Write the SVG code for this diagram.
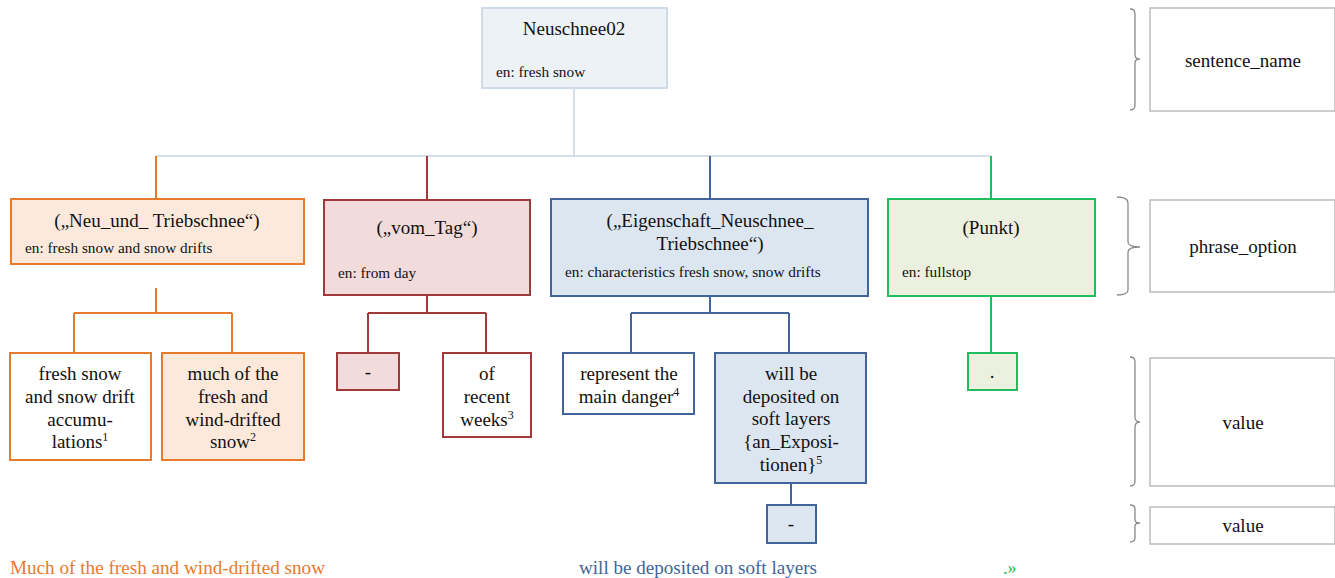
<svg xmlns="http://www.w3.org/2000/svg" width="1335" height="578" viewBox="0 0 1335 578">
<style>
.sup{font-size:12px}
.or{stroke:#e87a2c;stroke-width:2}
.rd{stroke:#9e3a3a;stroke-width:2}
.bl{stroke:#41659a;stroke-width:2}
.gr{stroke:#20bd5c;stroke-width:2}
.lbl{fill:#fff;stroke:#bdbdbd;stroke-width:1.5}
.br{fill:none;stroke:#8a8a8a;stroke-width:1.3}
</style>
<rect width="1335" height="578" fill="#fff"/>
<g id="connectors" fill="none">
<path d="M574,88V156M156,156H991" stroke="#c9d4e2" stroke-width="1.5"/>
<path class="or" d="M156,156V199M156,288V313M74,313H232M74,313V354M232,313V354"/>
<path class="rd" d="M427,156V200M427,295V313M368,313H486M368,313V354M486,313V354"/>
<path class="bl" d="M710,156V199M710,296V313M631,313H789M631,313V354M789,313V354M791,483V505"/>
<path class="gr" d="M991,156V199M991,296V354"/>
</g>
<g font-family="Liberation Serif, Times New Roman, serif" fill="#111">
<g id="n_root">
<rect x="482" y="8" width="185" height="80" fill="#edf2f6" stroke="#cfdbe7" stroke-width="2"/>
<text x="574" y="35" font-size="19" text-anchor="middle">Neuschnee02</text>
<text x="496" y="77" font-size="15.3">en: fresh snow</text>
</g>
<g id="n_neu">
<rect x="11" y="199" width="293" height="65" fill="#fde9db" class="or"/>
<text x="157" y="227" font-size="19" text-anchor="middle">(„Neu_und_ Triebschnee“)</text>
<text x="25" y="253" font-size="15.3">en: fresh snow and snow drifts</text>
</g>
<g id="n_vom">
<rect x="324" y="200" width="206" height="95" fill="#f2dbdb" class="rd"/>
<text x="427" y="234" font-size="19" text-anchor="middle">(„vom_Tag“)</text>
<text x="338" y="278" font-size="15.3">en: from day</text>
</g>
<g id="n_eig">
<rect x="551" y="199" width="317" height="97" fill="#dce6f1" class="bl"/>
<text x="710" y="227" font-size="19" text-anchor="middle">(„Eigenschaft_Neuschnee_</text>
<text x="710" y="250" font-size="19" text-anchor="middle">Triebschnee“)</text>
<text x="565" y="277" font-size="15.3">en: characteristics fresh snow, snow drifts</text>
</g>
<g id="n_punkt">
<rect x="888" y="199" width="207" height="97" fill="#ebf1de" class="gr"/>
<text x="991" y="234" font-size="19" text-anchor="middle">(Punkt)</text>
<text x="902" y="277" font-size="15.3">en: fullstop</text>
</g>
<g id="v_fresh" font-size="19" text-anchor="middle">
<rect x="10" y="353" width="141" height="107" fill="#fff" class="or"/>
<text x="80" y="380">fresh snow</text>
<text x="80" y="403">and snow drift</text>
<text x="80" y="426">accumu-</text>
<text x="80" y="448">lations<tspan class="sup" dy="-7">1</tspan></text>
</g>
<g id="v_much" font-size="19" text-anchor="middle">
<rect x="162" y="353" width="142" height="107" fill="#fde9db" class="or"/>
<text x="233" y="380">much of the</text>
<text x="233" y="403">fresh and</text>
<text x="233" y="426">wind-drifted</text>
<text x="233" y="448">snow<tspan class="sup" dy="-7">2</tspan></text>
</g>
<g id="v_dash1" font-size="19" text-anchor="middle">
<rect x="337" y="353" width="62" height="37" fill="#f2dbdb" class="rd"/>
<text x="368" y="378">-</text>
</g>
<g id="v_weeks" font-size="19" text-anchor="middle">
<rect x="443" y="353" width="88" height="84" fill="#fff" class="rd"/>
<text x="487" y="380">of</text>
<text x="487" y="403">recent</text>
<text x="487" y="426">weeks<tspan class="sup" dy="-7">3</tspan></text>
</g>
<g id="v_danger" font-size="19" text-anchor="middle">
<rect x="563" y="353" width="131" height="61" fill="#fff" class="bl"/>
<text x="629" y="380">represent the</text>
<text x="629" y="403">main danger<tspan class="sup" dy="-7">4</tspan></text>
</g>
<g id="v_deposit" font-size="19" text-anchor="middle">
<rect x="715" y="353" width="151" height="130" fill="#dce6f1" class="bl"/>
<text x="791" y="380">will be</text>
<text x="791" y="403">deposited on</text>
<text x="791" y="425">soft layers</text>
<text x="791" y="448">{an_Exposi-</text>
<text x="791" y="471">tionen}<tspan class="sup" dy="-7">5</tspan></text>
</g>
<g id="v_dash2" font-size="19" text-anchor="middle">
<rect x="767" y="505" width="49" height="38" fill="#dce6f1" class="bl"/>
<text x="791" y="530">-</text>
</g>
<g id="v_dot" font-size="19" text-anchor="middle">
<rect x="968" y="353" width="49" height="37" fill="#ebf1de" class="gr"/>
<text x="992" y="378">.</text>
</g>
<g id="legend" font-size="19" text-anchor="middle">
<path class="br" d="M1130,9Q1135,9 1135,14V55Q1135,59 1140,59Q1135,59 1135,63V105Q1135,110 1130,110"/>
<rect class="lbl" x="1150" y="8" width="185" height="103"/>
<text x="1243" y="67">sentence_name</text>
<path class="br" d="M1117,197Q1128,197 1128,203V242Q1128,247 1140,247Q1128,247 1128,252V290Q1128,295 1117,295"/>
<rect class="lbl" x="1150" y="200" width="185" height="92"/>
<text x="1243" y="253">phrase_option</text>
<path class="br" d="M1130,357Q1135,357 1135,362V417Q1135,422 1140,422Q1135,422 1135,427V481Q1135,486 1130,486"/>
<rect class="lbl" x="1150" y="358" width="185" height="128"/>
<text x="1243" y="429">value</text>
<path class="br" d="M1130,505Q1135,505 1135,509V520Q1135,523 1140,523Q1135,523 1135,526V538Q1135,542 1130,542"/>
<rect class="lbl" x="1150" y="507" width="185" height="37"/>
<text x="1243" y="532">value</text>
</g>
<g id="sentence" font-size="18">
<text x="10" y="574" textLength="315" lengthAdjust="spacingAndGlyphs" fill="#e87a2c">Much of the fresh and wind-drifted snow</text>
<text x="579" y="574" textLength="238" lengthAdjust="spacingAndGlyphs" fill="#41659a">will be deposited on soft layers</text>
<text x="1003" y="574" fill="#20bd5c">.»</text>
</g>
</g>
</svg>
